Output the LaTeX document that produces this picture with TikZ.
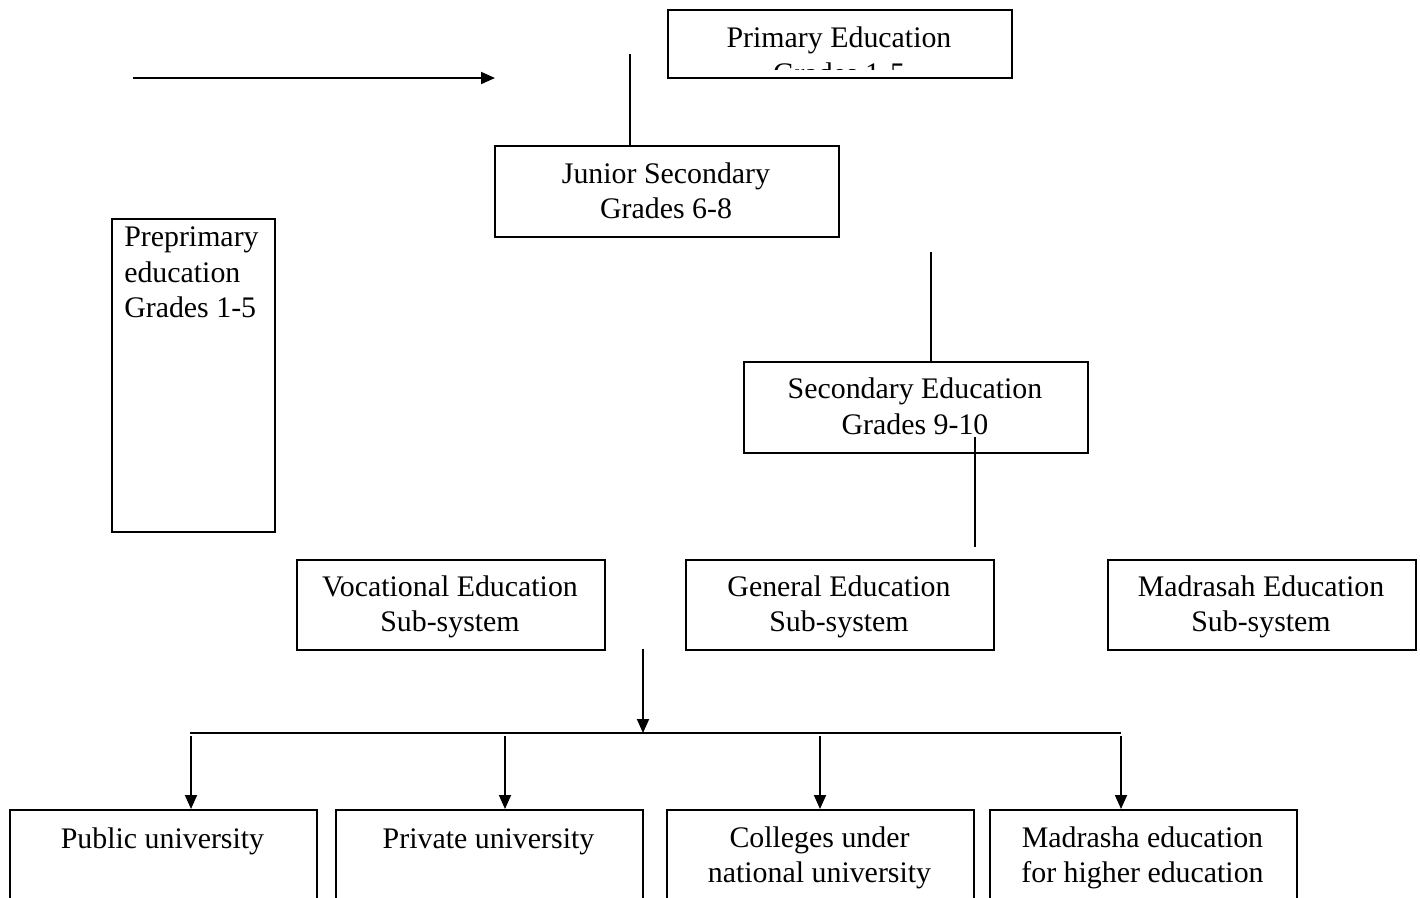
\documentclass[tikz,border=0pt]{standalone}
\usepackage{fontspec}
\setmainfont{Liberation Serif}
\usetikzlibrary{arrows.meta}

\tikzset{
    eduBox/.style={draw, line width=1.4pt, inner sep=0pt, anchor=north west},
    eduText/.style={inner sep=0pt, align=center, anchor=north, execute at begin node=\strut},
    link/.style={line width=1.4pt},
    flow/.style={line width=1.4pt, -{Triangle[length=10.5pt, width=9pt]}}
}

\begin{document}
\begin{tikzpicture}[x=0.75pt, y=-0.75pt, font=\fontsize{22.4}{26.6}\selectfont]
    % Page frame (pixel units)
    \clip (0, 0) rectangle (1420, 897);
    \fill[white] (0, 0) rectangle (1420, 897);

    % Primary education (second line hidden by the box edge)
    \begin{scope}
        \clip (667, 9) rectangle (1011, 69);
        \node[eduText] (primTxt) at (839, 27) {Primary Education\\Grades 1-5};
    \end{scope}
    \node[eduBox, minimum width=344*0.75pt, minimum height=68*0.75pt] (prim) at (667, 9) {};

    % Junior secondary
    \node[eduBox, minimum width=344*0.75pt, minimum height=91*0.75pt] (junior) at (494, 145) {};
    \node[eduText] (juniorTxt) at (666, 162.5) {Junior Secondary\\Grades 6-8};

    % Preprimary
    \node[eduBox, minimum width=163*0.75pt, minimum height=313*0.75pt] (prepri) at (111, 218) {};
    \node[inner sep=0pt, align=left, anchor=north west, execute at begin node=\strut] (prepriTxt) at (124, 226.5) {Preprimary\\education\\Grades 1-5};

    % Secondary
    \node[eduBox, minimum width=344*0.75pt, minimum height=91*0.75pt] (second) at (743, 361) {};
    \node[eduText] (secondTxt) at (915, 378) {Secondary Education\\Grades 9-10};

    % Sub-systems
    \foreach \name/\x/\label in {voc/296/Vocational Education, gen/685/General Education, madr/1107/Madrasah Education} {
        \node[eduBox, minimum width=308*0.75pt, minimum height=90*0.75pt] (\name) at (\x, 559) {};
        \node[eduText] (\name Txt) at (\x+154, 575.5) {\label\\Sub-system};
    }

    % Higher education
    \foreach \name/\x/\ty/\label in {pub/9/823.5/Public university, priv/335/823.5/Private university, coll/666/826.5/Colleges under\\national university, madh/989/826.5/Madrasha education\\for higher education} {
        \node[eduBox, minimum width=307*0.75pt, minimum height=130*0.75pt] (\name) at (\x, 809) {};
        \node[eduText] (\name Txt) at (\x+153.5, \ty) {\label};
    }

    % Connectors
    \coordinate (arrStart) at (133, 78);
    \coordinate (arrEnd) at (495, 78);
    \draw[flow] (arrStart) -- (arrEnd);

    \coordinate (primLine) at (630, 54);
    \draw[link] (primLine) -- (primLine |- junior.north);

    \coordinate (juniorLine) at (931, 252);
    \draw[link] (juniorLine) -- (juniorLine |- second.north);

    \coordinate (secTop) at (975, 437);
    \coordinate (secEnd) at (975, 547);
    \draw[link] (secTop) -- (secEnd);

    \coordinate (subOut) at (643, 649);
    \coordinate (busL) at (190, 733);
    \coordinate (busR) at (1121, 733);
    \draw[flow] (subOut) -- (subOut |- busL);
    \draw[link] (busL) -- (busR);

    \foreach \name/\x in {pub/191, priv/505, coll/820, madh/1121} {
        \coordinate (\name Drop) at (\x, 736);
        \draw[flow] (\name Drop) -- (\name Drop |- \name.north);
    }
\end{tikzpicture}
\end{document}
